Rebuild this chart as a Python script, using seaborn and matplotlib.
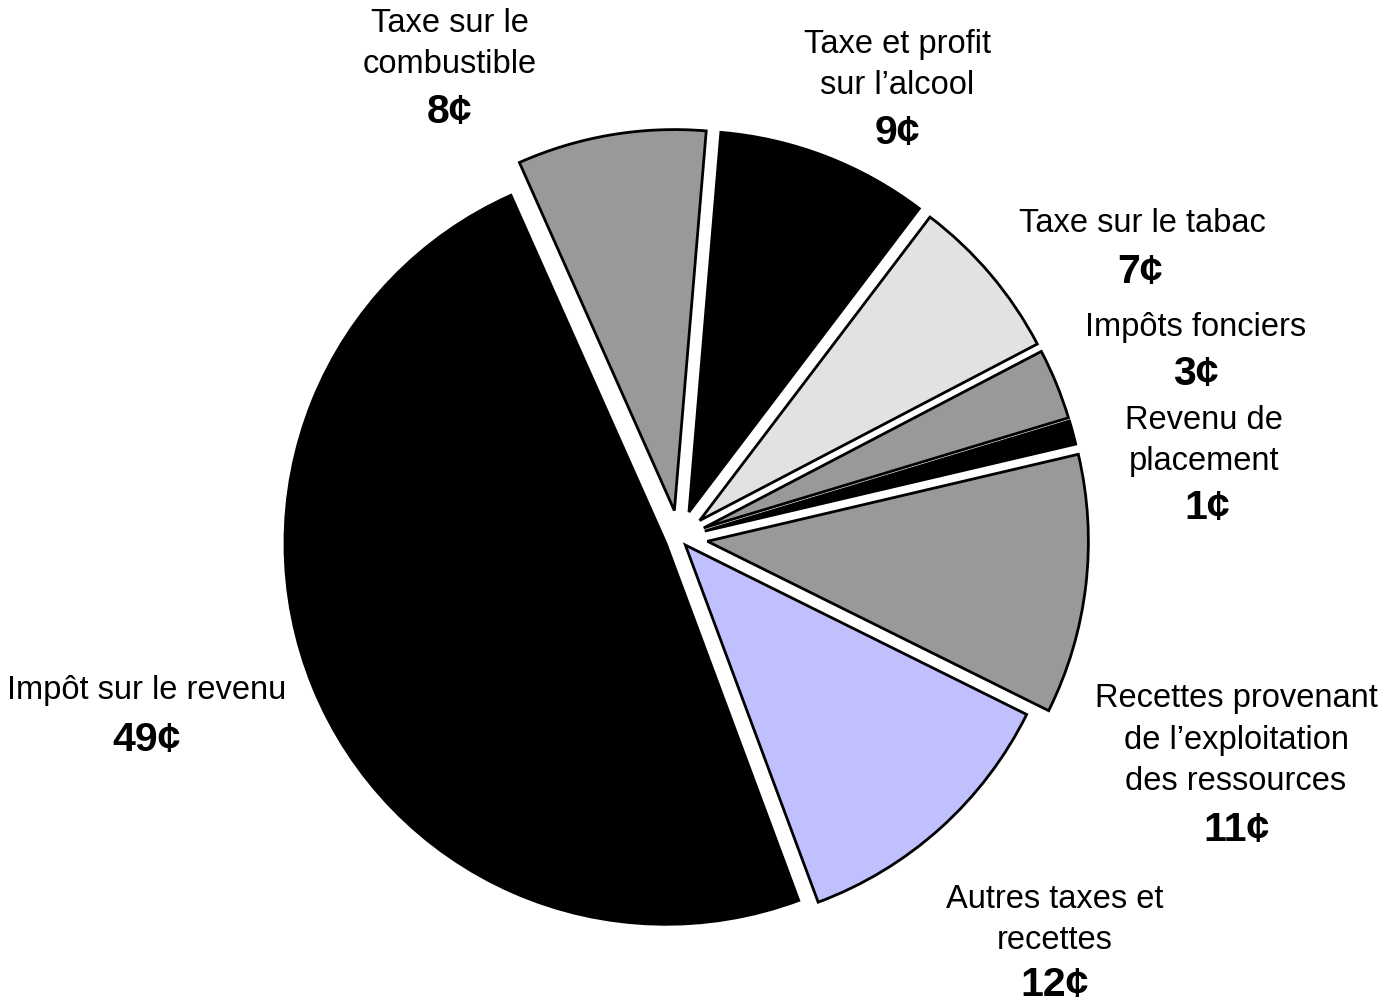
import matplotlib.pyplot as plt
import seaborn as sns

# Slice data, clockwise from the top-left boundary
names = [
    "Taxe sur le\ncombustible",
    "Taxe et profit\nsur l\u2019alcool",
    "Taxe sur le tabac",
    "Imp\u00f4ts fonciers",
    "Revenu de\nplacement",
    "Recettes provenant\nde l\u2019exploitation\ndes ressources",
    "Autres taxes et\nrecettes",
    "Imp\u00f4t sur le revenu",
]
cents = [8, 9, 7, 3, 1, 11, 12, 49]
colors = ["#999999", "#000000", "#e2e2e2", "#999999", "#000000",
          "#999999", "#c0c0ff", "#000000"]
explode = [0.073, 0.073, 0.071, 0.07, 0.07, 0.075, 0.025, 0.037]

# Label positions in pixels of the reference (name block centre, value centre)
name_px = [(450, 44), (897, 65), (1142, 223), (1196, 327), (1204, 441),
           (1236, 740), (1055, 920), (147, 690)]
value_px = [(450, 112), (897, 133), (1140, 272), (1196, 374), (1207, 508),
            (1236, 830), (1055, 985), (147, 740)]

CX, CY, R = 679, 538, 381


def to_data(p):
    return (p[0] - CX) / R, (CY - p[1]) / R


sns.set_style("white")
plt.rcParams["font.family"] = ["Liberation Sans", "DejaVu Sans"]

fig = plt.figure(figsize=(13.94, 10.07), dpi=100)
ax = fig.add_axes([0, 0, 1, 1])

ax.pie(
    cents,
    colors=colors,
    startangle=114,
    counterclock=False,
    explode=explode,
    wedgeprops={"edgecolor": "black", "linewidth": 2.0},
)

for name, val, npos, vpos in zip(names, cents, name_px, value_px):
    x, y = to_data(npos)
    ax.text(x, y, name, ha="center", va="center", fontsize=23.5,
            linespacing=1.42, color="black")
    x, y = to_data(vpos)
    ax.text(x, y, f"{val}\u00a2", ha="center", va="center", fontsize=29.5,
            fontweight="bold", color="black")

ax.set_xlim(-CX / R, (1394 - CX) / R)
ax.set_ylim((CY - 1007) / R, CY / R)
ax.set_aspect("equal")
ax.axis("off")

fig.savefig("out.png", dpi=100)
